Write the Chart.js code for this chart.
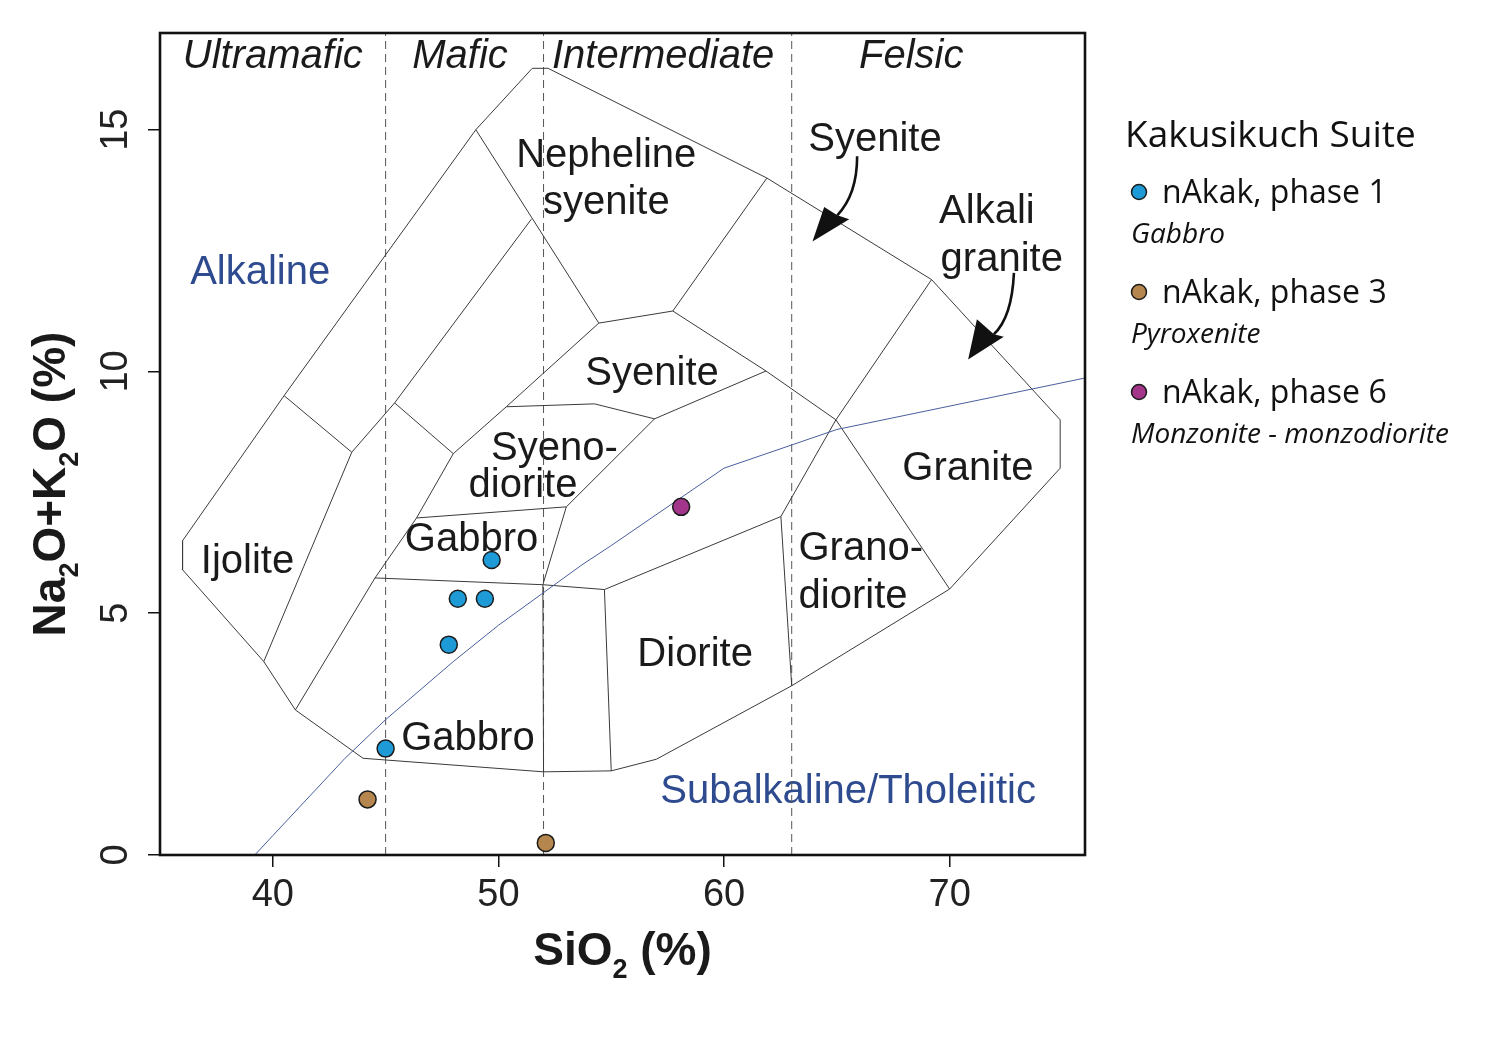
<!DOCTYPE html>
<html>
<head>
<meta charset="utf-8">
<title>TAS plutonic - Kakusikuch Suite</title>
<script src="https://cdn.jsdelivr.net/npm/chart.js@4.4.1/dist/chart.umd.min.js"></script>
<style>
  html, body { margin: 0; padding: 0; background: #fff; }
  #wrap { width: 1500px; height: 1043px; }
</style>
</head>
<body>
<div id="wrap"><canvas id="tas" width="1500" height="1043"></canvas></div>
<script>
// samples : SiO2 (%) and Na2O+K2O (%)
var phase1Si  = [49.7, 48.2, 49.4, 47.8, 45.0];
var phase1Alk = [6.1, 5.3, 5.3, 4.35, 2.2];
var phase3Si  = [44.2, 52.1];
var phase3Alk = [1.15, 0.25];
var phase6Si  = [58.1];
var phase6Alk = [7.2];

var xTicks = [40, 50, 60, 70];
var yTicks = [0, 5, 10, 15];
var xMin = 35, xMax = 76, yMin = 0, yMax = 17;

// field boundaries [SiO2, alkalis]
var outline = [[36.0,6.5],[36.0,5.9],[39.6,4.0],[41.0,3.0],[44.0,2.0],[52.0,1.72],[55.0,1.74],
  [57.0,1.98],[63.0,3.5],[70.0,5.5],[74.9,8.0],[74.9,9.0],[69.2,11.9],[61.9,14.0],[52.2,16.27],
  [51.5,16.27],[49.0,15.0],[40.5,9.5],[36.0,6.5]];
var ijoliteLine  = [[40.5,9.5],[43.5,8.33],[39.6,4.0]];
var foidLine     = [[43.5,8.33],[45.4,9.35],[51.46,13.15]];
var nephSyenite  = [[49.0,15.0],[54.45,11.0],[57.73,11.25],[61.9,14.0]];
var foidCross    = [[45.4,9.35],[48.0,8.3]];
var mafLine      = [[54.45,11.0],[50.35,9.27],[48.0,8.3],[46.37,6.97],[44.53,5.73],[41.0,3.0]];
var syeniteTop   = [[57.73,11.25],[61.86,10.01],[64.96,9.0],[70.0,5.5]];
var syeniteLow   = [[61.86,10.01],[56.92,9.02],[53.01,7.2],[51.97,5.59],[52.0,1.72]];
var syenodTop    = [[56.92,9.02],[54.26,9.33],[50.35,9.27]];
var syenodLow    = [[46.37,6.97],[53.01,7.2]];
var gabbroLow    = [[44.53,5.73],[51.97,5.59],[54.7,5.49],[55.0,1.74]];
var dioriteTop   = [[54.7,5.49],[62.52,7.0],[63.0,3.5]];
var granodTop    = [[62.52,7.0],[64.96,9.0],[69.2,11.9]];
var irvineBaragar = [[39.2,0],[40,0.4],[43.2,2],[45,2.8],[48,4],[50,4.75],[53.7,6],[55,6.4],[60,8],[65,8.8],[77.4,10]];
var silicaLimits = [45, 52, 63];

var fieldLines = [outline, ijoliteLine, foidLine, nephSyenite, foidCross, mafLine, syeniteTop,
  syeniteLow, syenodTop, syenodLow, gabbroLow, dioriteTop, granodTop];

// names on the diagram: text, SiO2, alkalis (baseline), colour
var black = '#1a1a1a', navy = '#2f4b8f';
var fieldNames = [
  ['Nepheline', 54.78, 14.22, black], ['syenite', 54.78, 13.25, black],
  ['Syenite', 66.69, 14.56, black],
  ['Alkali', 71.65, 13.08, black], ['granite', 72.31, 12.08, black],
  ['Alkaline', 39.44, 11.80, navy],
  ['Syenite', 56.81, 9.71, black],
  ['Syeno-', 52.48, 8.16, black], ['diorite', 51.09, 7.41, black],
  ['Gabbro', 48.81, 6.28, black],
  ['Ijolite', 38.88, 5.83, black],
  ['Granite', 70.81, 7.76, black],
  ['Grano-', 66.06, 6.11, black], ['diorite', 65.72, 5.11, black],
  ['Diorite', 58.72, 3.91, black],
  ['Gabbro', 48.65, 2.17, black],
  ['Subalkaline/Tholeiitic', 65.5, 1.08, navy]
];
var classNames = [['Ultramafic', 40.0], ['Mafic', 48.3], ['Intermediate', 57.3], ['Felsic', 68.3]];

// curved pointers: start, control, shaft end, tip, wing, wing
var pointers = [
  [[65.90,14.45],[65.90,13.66],[65.02,13.23],[63.92,12.69],[64.44,13.40],[65.55,13.15]],
  [[72.85,12.04],[72.76,11.12],[71.96,10.77],[70.82,10.25],[71.21,11.08],[72.40,10.72]]
];

var legendItems = [
  ['nAkak, phase 1', 'Gabbro', '#1e9ad6'],
  ['nAkak, phase 3', 'Pyroxenite', '#b5864d'],
  ['nAkak, phase 6', 'Monzonite - monzodiorite', '#a3358a']
];

var FONT = '"Liberation Sans", Arial, Helvetica, sans-serif';
var LFONT = '"Open Sans", "Noto Sans", sans-serif';

function toPts(arr){
  return arr.map(function(p){ return {x: p[0], y: p[1]}; });
}
function zipPts(xs, ys){
  return xs.map(function(v, i){ return {x: v, y: ys[i]}; });
}
function lineSet(arr, color, width, dash, order){
  return {
    type: 'scatter', data: toPts(arr), showLine: true, borderColor: color, borderWidth: width,
    borderDash: dash, pointRadius: 0, pointHoverRadius: 0, fill: false, tension: 0, order: order
  };
}

var datasets = [
  {label: 'nAkak, phase 1', data: zipPts(phase1Si, phase1Alk), backgroundColor: legendItems[0][2],
   borderColor: '#1b1b1b', borderWidth: 1.5, pointRadius: 8.5, order: 0},
  {label: 'nAkak, phase 3', data: zipPts(phase3Si, phase3Alk), backgroundColor: legendItems[1][2],
   borderColor: '#1b1b1b', borderWidth: 1.5, pointRadius: 8.5, order: 0},
  {label: 'nAkak, phase 6', data: zipPts(phase6Si, phase6Alk), backgroundColor: legendItems[2][2],
   borderColor: '#1b1b1b', borderWidth: 1.5, pointRadius: 8.5, order: 0}
];
silicaLimits.forEach(function(s){
  datasets.push(lineSet([[s, yMin], [s, yMax]], '#555', 1, [8, 5], 3));
});
fieldLines.forEach(function(l){
  datasets.push(lineSet(l, '#3a3a3a', 1, [], 2));
});
datasets.push(lineSet(irvineBaragar, '#4a5e9e', 1, [], 1));

function richDraw(ctx, parts, big, small, drop, x0){
  var cx = x0;
  parts.forEach(function(p){
    ctx.font = p[1] ? small : big;
    ctx.fillText(p[0], cx, p[1] ? drop : 0);
    cx += ctx.measureText(p[0]).width;
  });
}
function richWidth(ctx, parts, big, small){
  var w = 0;
  parts.forEach(function(p){ ctx.font = p[1] ? small : big; w += ctx.measureText(p[0]).width; });
  return w;
}

var decor = {
  id: 'decor',
  beforeDatasetsDraw: function(chart){
    var ctx = chart.ctx, x = chart.scales.x, y = chart.scales.y, a = chart.chartArea;
    ctx.save();
    ctx.textAlign = 'center';
    ctx.textBaseline = 'alphabetic';
    ctx.font = '40px ' + FONT;
    fieldNames.forEach(function(f){
      ctx.fillStyle = f[3];
      ctx.fillText(f[0], x.getPixelForValue(f[1]), y.getPixelForValue(f[2]));
    });
    ctx.font = 'italic 40px ' + FONT;
    ctx.fillStyle = black;
    classNames.forEach(function(c){
      ctx.fillText(c[0], x.getPixelForValue(c[1]), a.top + 35);
    });
    ctx.restore();
  },
  afterDatasetsDraw: function(chart){
    var ctx = chart.ctx, x = chart.scales.x, y = chart.scales.y;
    function P(p){ return [x.getPixelForValue(p[0]), y.getPixelForValue(p[1])]; }
    ctx.save();
    pointers.forEach(function(pt){
      var s = P(pt[0]), c = P(pt[1]), e = P(pt[2]), t = P(pt[3]), w1 = P(pt[4]), w2 = P(pt[5]);
      ctx.strokeStyle = '#111';
      ctx.lineWidth = 2.6;
      ctx.beginPath();
      ctx.moveTo(s[0], s[1]);
      ctx.quadraticCurveTo(c[0], c[1], e[0], e[1]);
      ctx.stroke();
      ctx.fillStyle = '#111';
      ctx.beginPath();
      ctx.moveTo(t[0], t[1]);
      ctx.lineTo(w1[0], w1[1]);
      ctx.lineTo(e[0], e[1]);
      ctx.lineTo(w2[0], w2[1]);
      ctx.closePath();
      ctx.fill();
    });
    ctx.restore();
  },
  afterDraw: function(chart){
    var ctx = chart.ctx, a = chart.chartArea, y = chart.scales.y;
    ctx.save();
    // frame
    ctx.strokeStyle = '#111';
    ctx.lineWidth = 2.6;
    ctx.strokeRect(a.left, a.top, a.right - a.left, a.bottom - a.top);

    // rotated y tick labels
    ctx.fillStyle = '#222';
    ctx.font = '38px ' + FONT;
    ctx.textAlign = 'center';
    ctx.textBaseline = 'middle';
    y.ticks.forEach(function(t){
      ctx.save();
      ctx.translate(a.left - 43, y.getPixelForValue(t.value));
      ctx.rotate(-Math.PI / 2);
      ctx.fillText(String(t.value), 0, 0);
      ctx.restore();
    });

    // axis titles with subscripts
    var big = 'bold 46px ' + FONT, small = 'bold 27px ' + FONT;
    var xTitle = [['SiO', 0], ['2', 1], [' (%)', 0]];
    var yTitle = [['Na', 0], ['2', 1], ['O+K', 0], ['2', 1], ['O (%)', 0]];
    ctx.fillStyle = '#1a1a1a';
    ctx.textAlign = 'left';
    ctx.textBaseline = 'alphabetic';
    ctx.save();
    ctx.translate((a.left + a.right) / 2, a.bottom + 110);
    richDraw(ctx, xTitle, big, small, 13, -richWidth(ctx, xTitle, big, small) / 2);
    ctx.restore();
    ctx.save();
    ctx.translate(a.left - 95, 484);
    ctx.rotate(-Math.PI / 2);
    richDraw(ctx, yTitle, big, small, 13, -richWidth(ctx, yTitle, big, small) / 2);
    ctx.restore();

    // legend
    var lx = a.right + 40;
    ctx.fillStyle = '#111';
    ctx.font = '37px ' + LFONT;
    ctx.fillText('Kakusikuch Suite', lx, 147);
    legendItems.forEach(function(it, i){
      var base = 203 + i * 100;
      ctx.beginPath();
      ctx.arc(lx + 14, base - 11, 7.5, 0, Math.PI * 2);
      ctx.fillStyle = it[2];
      ctx.fill();
      ctx.lineWidth = 1.5;
      ctx.strokeStyle = '#1b1b1b';
      ctx.stroke();
      ctx.fillStyle = '#111';
      ctx.font = '32px ' + LFONT;
      ctx.fillText(it[0], lx + 37, base);
      ctx.font = 'italic 28px ' + LFONT;
      ctx.fillText(it[1], lx + 6, base + 40);
    });
    ctx.restore();
  }
};

new Chart(document.getElementById('tas'), {
  type: 'scatter',
  data: {datasets: datasets},
  options: {
    responsive: false,
    animation: false,
    devicePixelRatio: 1,
    layout: {padding: {left: 146, top: 33, right: 415, bottom: 128}},
    plugins: {legend: {display: false}, tooltip: {enabled: false}},
    scales: {
      x: {
        type: 'linear', min: xMin, max: xMax,
        afterBuildTicks: function(s){ s.ticks = xTicks.map(function(v){ return {value: v}; }); },
        afterFit: function(s){ s.height = 60; },
        grid: {drawOnChartArea: false, drawTicks: true, tickLength: 12, color: '#111', lineWidth: 1.5},
        border: {display: false},
        ticks: {font: {family: FONT, size: 38}, color: '#222', padding: 6, maxRotation: 0}
      },
      y: {
        type: 'linear', min: yMin, max: yMax,
        afterBuildTicks: function(s){ s.ticks = yTicks.map(function(v){ return {value: v}; }); },
        afterFit: function(s){ s.width = 14; },
        grid: {drawOnChartArea: false, drawTicks: true, tickLength: 12, color: '#111', lineWidth: 1.5},
        border: {display: false},
        ticks: {display: false}
      }
    }
  },
  plugins: [decor]
});
</script>
</body>
</html>
